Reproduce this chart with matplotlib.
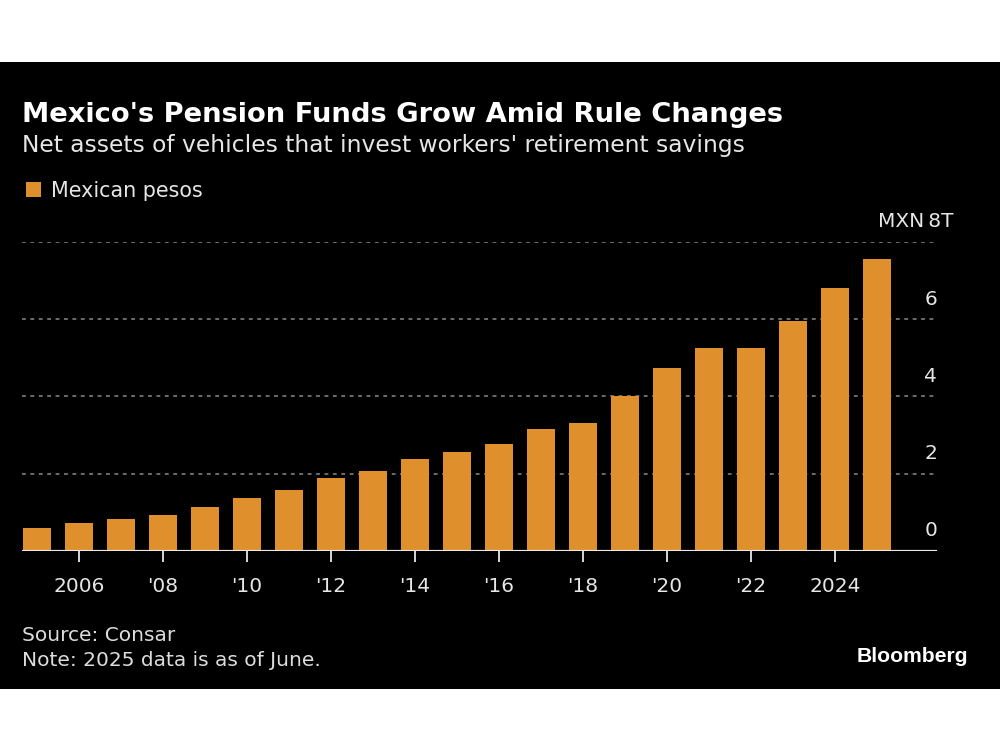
import matplotlib
matplotlib.use('Agg')
import matplotlib.pyplot as plt
from matplotlib.patches import Rectangle
import matplotlib.transforms as mtransforms

# ---- data ----
years = list(range(2005, 2026))
assets_trillion_mxn = [0.59, 0.72, 0.83, 0.94, 1.15, 1.38, 1.57, 1.90, 2.06, 2.38,
                       2.55, 2.78, 3.16, 3.32, 4.01, 4.73, 5.25, 5.24, 5.96, 6.81, 7.54]
tick_years = [2006, 2008, 2010, 2012, 2014, 2016, 2018, 2020, 2022, 2024]
tick_labels = ['2006', "'08", "'10", "'12", "'14", "'16", "'18", "'20", "'22", '2024']
y_ticks = [0, 2, 4, 6, 8]
y_tick_labels = ['0', '2', '4', '6', 'MXN\u20098T']

title = "Mexico's Pension Funds Grow Amid Rule Changes"
subtitle = "Net assets of vehicles that invest workers' retirement savings"
legend_label = "Mexican pesos"
source = "Source: Consar"
note = "Note: 2025 data is as of June."

BAR = '#DF8F2C'
W, H = 1000, 750

fig = plt.figure(figsize=(10, 7.5), dpi=100)
fig.patch.set_facecolor('white')
fig.add_artist(Rectangle((0, 1 - 689 / H), 1, (689 - 62) / H, transform=fig.transFigure,
                         facecolor='black', edgecolor='none', zorder=0))

def fy(px):
    return 1 - px / H

sans = ['DejaVu Sans']
narrow = ['Liberation Sans Narrow', 'DejaVu Sans']

fig.text(22 / W, fy(121.5), title, color='white', fontsize=19.7, fontweight='bold',
         family=sans, va='baseline', ha='left')
fig.text(22 / W, fy(152), subtitle, color='#E6E6E6', fontsize=16.8, family=sans,
         va='baseline', ha='left')
fig.add_artist(Rectangle((26 / W, fy(197)), 15 / W, 15 / H, transform=fig.transFigure,
                         facecolor=BAR, edgecolor='none'))
fig.text(51 / W, fy(197), legend_label, color='#E6E6E6', fontsize=14.9, family=sans,
         va='baseline', ha='left')
fig.text(22 / W, fy(641), source, color='#DDDDDD', fontsize=14.5, family=narrow,
         va='baseline', ha='left')
fig.text(22 / W, fy(666), note, color='#DDDDDD', fontsize=14.5, family=narrow,
         va='baseline', ha='left')
fig.text(968 / W, fy(662), 'Bloomberg', color='white', fontsize=15.2, fontweight='bold',
         family=['Liberation Sans', 'DejaVu Sans'], va='baseline', ha='right')

# ---- axes ----
ax = fig.add_axes([22 / W, fy(551), 915 / W, (551 - 241.7) / H])
ax.set_facecolor('none')
ax.set_xlim(2005 - 15 / 42, 2005 + (937 - 37) / 42)
ax.set_ylim(0, 8)

for y in y_ticks[1:]:
    ax.axhline(y, color='#8A8A8A', lw=1.1, ls=(0, (2.5, 3)), zorder=1)

ax.bar(years, assets_trillion_mxn, width=0.69, color=BAR, zorder=2)
ax.axhline(0, color='#E8E8E8', lw=1.6, zorder=3)

for s in ax.spines.values():
    s.set_visible(False)

ax.set_xticks(tick_years)
ax.set_xticklabels(tick_labels, family=sans, fontsize=14.5, color='#E6E6E6')
ax.tick_params(axis='x', length=8, width=1.3, color='#E8E8E8', pad=10.5, direction='out')
ax.set_yticks([])

blend = mtransforms.blended_transform_factory(ax.transAxes, ax.transData)
for y, lab in zip(y_ticks, y_tick_labels):
    dx = 17 if lab.startswith('MXN') else 0
    tr = mtransforms.offset_copy(blend, fig=fig, x=dx, y=14.5, units='dots')
    ax.text(1.0, y, lab, transform=tr, ha='right', va='baseline', color='#E6E6E6',
            fontsize=14.5, family=sans, clip_on=False)

fig.savefig('out.png', dpi=100, facecolor=fig.get_facecolor())
